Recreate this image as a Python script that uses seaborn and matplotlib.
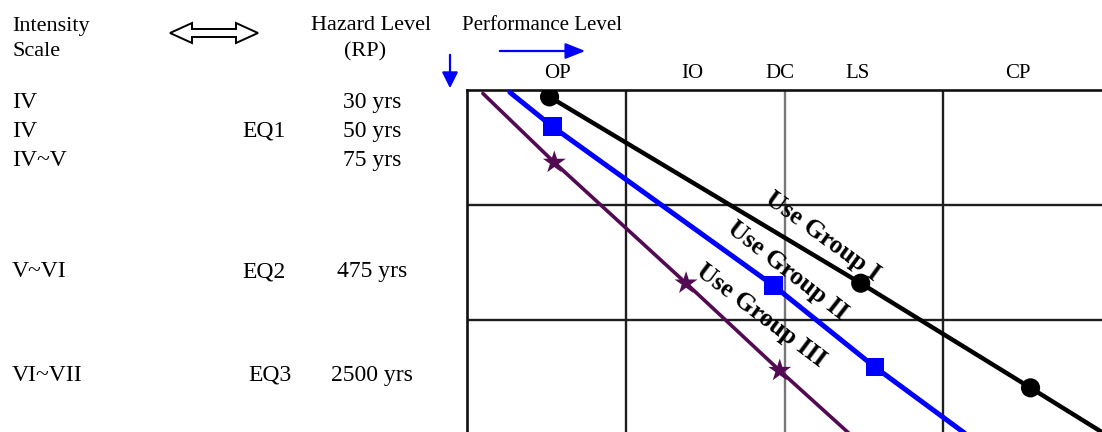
import pandas as pd
import matplotlib.pyplot as plt
import matplotlib.patches as mpatches
from matplotlib.transforms import blended_transform_factory
import seaborn as sns

# Performance levels along the top, and where they sit on the performance scale
perf_levels = ["OP", "IO", "DC", "LS", "CP"]
perf_pos = [0.57, 1.42, 1.97, 2.46, 3.47]

# Hazard rows shown on the left
intensity = ["IV", "IV", "IV~V", "V~VI", "VI~VII"]
eq_labels = ["", "EQ1", "", "EQ2", "EQ3"]
return_period = ["30 yrs", "50 yrs", "75 yrs", "475 yrs", "2500 yrs"]
hazard_pos = [0.11, 0.36, 0.61, 1.58, 2.48]

# Use group lines: performance (x) vs hazard (y).
# Unmarked end points are where the lines run into / out of the box.
groups = ["Use Group I", "Use Group II", "Use Group III"]
group1_x = [0.52, 2.48, 3.55, 4.11]
group1_y = [0.06, 1.68, 2.59, 3.07]
group1_marked = [True, True, True, False]
group2_x = [0.27, 0.54, 1.93, 2.57, 3.19]
group2_y = [0.02, 0.32, 1.70, 2.41, 3.04]
group2_marked = [False, True, True, True, False]
group3_x = [0.10, 0.55, 1.38, 1.97, 2.45]
group3_y = [0.03, 0.63, 1.68, 2.44, 3.04]
group3_marked = [False, True, True, True, False]

#
# Build long table for seaborn
#
frames = []
for g, xs, ys, mk in zip(groups,
                         [group1_x, group2_x, group3_x],
                         [group1_y, group2_y, group3_y],
                         [group1_marked, group2_marked, group3_marked]):
    frames.append(pd.DataFrame({"perf": xs, "hazard": ys, "marked": mk, "group": g}))
df = pd.concat(frames, ignore_index=True)

colors = {"Use Group I": "#000000", "Use Group II": "#0000ff", "Use Group III": "#520a52"}
widths = {"Use Group I": 3.2, "Use Group II": 3.6, "Use Group III": 2.6}
markers = {"Use Group I": "o", "Use Group II": "s", "Use Group III": "*"}
msizes = {"Use Group I": 190, "Use Group II": 180, "Use Group III": 300}

sns.set_theme(style="white")
plt.rcParams["font.family"] = ["Liberation Serif", "DejaVu Serif"]
plt.rcParams["text.color"] = "black"

W, H = 1102, 432
fig = plt.figure(figsize=(W / 100, H / 100), dpi=100)
ax = fig.add_axes([467 / W, -3 / H, 635 / W, 345 / H])


def fx(px):
    return px / W


def fy(py):
    return 1 - py / H


# grid of the performance matrix
for v, c in zip([1, 2, 3], ["#1e1e1e", "#777777", "#1e1e1e"]):
    ax.axvline(v, color=c, lw=1.7, zorder=1)
for h in [1, 2]:
    ax.axhline(h, color="#1e1e1e", lw=1.7, zorder=1)

sns.lineplot(data=df, x="perf", y="hazard", hue="group", size="group",
             palette=colors, sizes=widths, sort=False, estimator=None,
             legend=False, ax=ax, zorder=3)
sns.scatterplot(data=df[df["marked"]], x="perf", y="hazard", hue="group",
                style="group", size="group", palette=colors, markers=markers,
                sizes=msizes, linewidth=0, legend=False, ax=ax, zorder=4)

ax.set_xlim(0, 4)
ax.set_ylim(3, 0)
ax.set_xlabel("")
ax.set_ylabel("")
ax.xaxis.tick_top()
ax.set_xticks(perf_pos)
ax.set_xticklabels(perf_levels, fontsize=15)
ax.tick_params(axis="x", length=0, pad=5, colors="black")
ax.set_yticks([])
for side in ["top", "left"]:
    ax.spines[side].set_color("#111111")
    ax.spines[side].set_linewidth(1.9)
ax.spines["right"].set_visible(False)
ax.spines["bottom"].set_visible(False)

# group labels along the lines
label_pos = {"Use Group I": (2.24, 1.27, -36),
             "Use Group II": (2.02, 1.57, -38),
             "Use Group III": (1.85, 1.96, -37)}
for g in groups:
    x, y, rot = label_pos[g]
    ax.text(x, y, g, rotation=rot, rotation_mode="anchor", ha="center",
            va="center", fontsize=18.5, fontweight="bold", color="black", zorder=5)

# left-hand hazard table
trans = blended_transform_factory(fig.transFigure, ax.transData)
eq_x = [242, 242, 242, 242, 248]
for yv, a, b, c, ex in zip(hazard_pos, intensity, eq_labels, return_period, eq_x):
    ax.text(fx(12), yv, a, transform=trans, ha="left", va="center", fontsize=17, clip_on=False)
    ax.text(fx(ex), yv, b, transform=trans, ha="left", va="center", fontsize=17, clip_on=False)
    ax.text(fx(372), yv, c, transform=trans, ha="center", va="center", fontsize=17, clip_on=False)

# headers
fig.text(fx(12), fy(26), "Intensity", ha="left", va="center", fontsize=16)
fig.text(fx(12), fy(51), "Scale", ha="left", va="center", fontsize=16)
fig.text(fx(371), fy(25), "Hazard Level", ha="center", va="center", fontsize=16)
fig.text(fx(365), fy(52), "(RP)", ha="center", va="center", fontsize=16)
fig.text(fx(462), fy(25), "Performance Level", ha="left", va="center", fontsize=15)

# hollow double arrow between the two header columns
arrow_px = [(170, 33), (192, 23), (192, 29), (236, 29), (236, 23), (258, 33),
            (236, 43), (236, 37), (192, 37), (192, 43)]
fig.patches.append(mpatches.Polygon([(fx(x), fy(y)) for x, y in arrow_px], closed=True,
                                    transform=fig.transFigure, fc="white", ec="black", lw=1.4))

# blue direction arrows
ax.annotate("", xy=(fx(588), fy(51)), xytext=(fx(497), fy(51)),
            xycoords="figure fraction", textcoords="figure fraction",
            arrowprops=dict(arrowstyle="-|>,head_length=1.0,head_width=0.4", color="#0000ff", lw=1.6))
ax.annotate("", xy=(fx(450), fy(91)), xytext=(fx(450), fy(52)),
            xycoords="figure fraction", textcoords="figure fraction",
            arrowprops=dict(arrowstyle="-|>,head_length=0.8,head_width=0.4", color="#0000ff", lw=1.6))

fig.savefig("out.png", dpi=100)
